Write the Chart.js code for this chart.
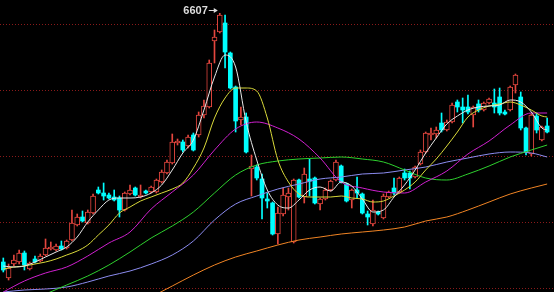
<!DOCTYPE html>
<html>
<head>
<meta charset="utf-8">
<script src="https://cdn.jsdelivr.net/npm/chart.js@4.4.1/dist/chart.umd.min.js"></script>
<style>
  html, body { margin: 0; padding: 0; background: #000; }
  canvas { display: block; }
</style>
</head>
<body>
<canvas id="kline" width="554" height="292"></canvas>
<script>
// daily candles (index 0 = leftmost)
const candleOpen = [4120,3960,4100,4120,4210,4050,4150,4130,4190,4250, 4240,4280,4260,4340,4490,4570,4510,4610,4840,4810,
  4790,4770,4760,4640,4800,4860,4770,4830,4820,4820, 4920,5010,5110,5310,5320,5280,5390,5390,5590,5670,
  6330,6420,6510,6210,5870,5540,5570,5050,5070,4950, 4750,4710,4400,4600,4770,4320,4940,4770,4950,4960,
  4700,4750,4840,4940,5080,4900,4740,4840,4800,4600, 4500,4620,4560,4770,4860,4820,5010,5010,4970,5100,
  5220,5390,5400,5510,5440,5520,5720,5670,5670,5590, 5700,5640,5710,5710,5770,5620,5640,5890,5770,5460,
  5200,5580,5340,5480];
const candleHigh = [4160,4100,4190,4240,4230,4120,4180,4200,4350,4320, 4300,4330,4340,4640,4600,4630,4640,4800,4870,4910,
  4810,4840,4780,4820,4890,4870,4890,4840,4880,4950, 5040,5140,5400,5350,5340,5390,5410,5620,5740,6140,
  6440,6607,6590,6220,5880,5670,5610,5190,5090,5000, 4810,4720,4670,4860,4860,4950,4950,5060,5150,4970,
  4760,4860,4940,5140,5090,4910,4850,4970,4810,4630, 4740,4630,4800,4830,4960,4970,5050,5030,5080,5240,
  5420,5460,5470,5610,5540,5710,5740,5760,5790,5680, 5740,5720,5760,5850,5860,5640,5880,6000,5820,5470,
  5600,5610,5480,5560];
const candleLow = [4020,3940,4080,4100,4040,4040,4110,4120,4180,4240, 4230,4240,4250,4330,4480,4520,4500,4600,4800,4740,
  4750,4730,4570,4630,4790,4780,4760,4800,4810,4810, 4910,5000,5100,5290,5220,5260,5230,5370,5560,5660,
  6110,6410,6060,5850,5420,5490,5210,4780,4940,4550, 4660,4390,4300,4580,4640,4310,4760,4710,4780,4700,
  4640,4740,4830,4930,4910,4720,4660,4760,4600,4490, 4480,4590,4550,4760,4790,4810,4940,4850,4960,5090,
  5210,5340,5360,5420,5430,5510,5620,5510,5600,5470, 5620,5630,5700,5610,5590,5590,5630,5810,5440,5190,
  5180,5410,5330,5410];
const candleClose = [4040,4060,4140,4210,4090,4110,4120,4180,4260,4270, 4280,4250,4330,4510,4570,4530,4620,4780,4810,4780,
  4760,4740,4640,4810,4840,4790,4790,4810,4870,4940, 5020,5120,5320,5330,5240,5370,5240,5590,5680,6110,
  6370,6590,6220,5860,5530,5570,5220,5080,4960,4760, 4730,4400,4610,4790,4810,4940,4770,5000,4930,4710,
  4750,4840,4930,5120,4920,4730,4840,4810,4610,4570, 4640,4600,4780,4820,4810,4960,4960,4960,5070,5220,
  5410,5410,5440,5440,5520,5690,5670,5640,5620,5670, 5640,5710,5750,5670,5610,5600,5870,5990,5460,5220,
  5590,5440,5470,5420];

// moving averages, sampled at these candle positions
const fastIdx = [0,2,4,6,8,10,12,14,16,18,20,22,24,26,28,30,32,34,36,38,40,42,44,46,48,50,
  52,54,56,58,60,62,64,66,68,70,72,74,76,78,80,82,84,86,88,90,92,94,96,98,100,102,103];
const ma5 = [4080,4070,4080,4120,4170,4220,4270,4370,4520,4640,4740,4760,4760,4770,4810,4890,5040,5210,5340,5640,5970,6190,6070,5520,5140,4840,
  4690,4660,4740,4840,4870,4830,4920,4880,4750,4620,4640,4770,4890,5040,5210,5360,5500,5580,5640,5670,5680,5690,5740,5720,5620,5460,5440];
const ma10 = [4050,4070,4080,4100,4120,4150,4190,4230,4290,4390,4490,4610,4670,4730,4770,4810,4850,4910,5060,5260,5560,5760,5860,5860,5830,5560,
  5140,4920,4800,4770,4770,4770,4780,4760,4750,4720,4730,4780,4840,4920,5040,5150,5280,5420,5570,5640,5680,5700,5720,5690,5640,5580,5570];

const slowIdx = [0,4,8,12,16,20,24,28,32,36,40,44,48,52,56,60,64,68,72,76,80,84,88,92,96,100,103];
const ma20 = [3820,3930,4010,4070,4180,4310,4420,4650,4820,4990,5240,5450,5520,5460,5350,5160,4920,4860,4820,4810,4920,5030,5200,5330,5490,5610,5610];
const ma30 = [null,null,3800,3890,3980,4090,4220,4360,4480,4620,4810,4990,5090,5130,5150,5160,5170,5150,5120,5040,4960,4940,5000,5080,5170,5240,5290];
const ma60 = [3820,3840,3850,3870,3920,3980,4030,4100,4190,4330,4540,4700,4780,4850,4900,4950,4970,5000,5010,5040,5070,5120,5160,5200,5220,5210,5170];
const ma120 = [null,null,null,null,null,null,null,3770,3880,3990,4090,4170,4230,4290,4340,4370,4400,4420,4440,4470,4530,4570,4640,4720,4800,4860,4900];

// unlabeled horizontal guide levels
const gridLevels = [6500, 5840, 5180, 4520, 3860];

const RED = '#e4463e';
const CYAN = '#00ffff';

function toPoints(idx, vals) {
  return idx.map((x, k) => ({ x: x, y: vals[k] })).filter(p => p.y !== null);
}

function maLine(label, idx, vals, color) {
  return {
    type: 'line',
    label: label,
    data: toPoints(idx, vals),
    borderColor: color,
    borderWidth: 1,
    pointRadius: 0,
    cubicInterpolationMode: 'monotone',
    order: 0
  };
}

const idxAll = candleOpen.map((_, i) => i);
const isUp = i => candleClose[i] >= candleOpen[i];

// peak marker "6607 →"
const peakLabel = {
  id: 'peakLabel',
  afterDatasetsDraw(chart) {
    const { ctx, scales: { x, y } } = chart;
    const hi = Math.max(...candleHigh);
    const i = candleHigh.indexOf(hi);
    const px = x.getPixelForValue(i);
    const ay = Math.round(y.getPixelForValue(hi) - 3) + 0.5;
    ctx.save();
    ctx.fillStyle = '#dcdcdc';
    ctx.strokeStyle = '#dcdcdc';
    ctx.lineWidth = 1;
    ctx.font = 'bold 11px "Liberation Sans", Arial, sans-serif';
    ctx.textAlign = 'right';
    ctx.textBaseline = 'middle';
    ctx.fillText(String(hi), px - 12, ay);
    ctx.beginPath();
    ctx.moveTo(px - 11, ay);
    ctx.lineTo(px - 3, ay);
    ctx.stroke();
    ctx.beginPath();
    ctx.moveTo(px - 2, ay);
    ctx.lineTo(px - 6, ay - 2.5);
    ctx.lineTo(px - 6, ay + 2.5);
    ctx.closePath();
    ctx.fill();
    ctx.restore();
  }
};

new Chart(document.getElementById('kline'), {
  type: 'bar',
  data: {
    datasets: [
      maLine('MA5', fastIdx, ma5, '#e8e8e8'),
      maLine('MA10', fastIdx, ma10, '#dada3a'),
      maLine('MA20', slowIdx, ma20, '#d020d0'),
      maLine('MA30', slowIdx, ma30, '#2ed02e'),
      maLine('MA60', slowIdx, ma60, '#8c8cf0'),
      maLine('MA120', slowIdx, ma120, '#f08424'),
      {
        // rising days: hollow red bodies
        label: 'up',
        data: idxAll.filter(isUp).map(i => ({ x: i, y: [candleOpen[i], candleClose[i]] })),
        backgroundColor: '#000',
        borderColor: RED,
        borderWidth: 1,
        borderSkipped: false,
        barThickness: 5,
        grouped: false,
        order: 1
      },
      {
        // falling days: solid cyan bodies
        label: 'down',
        data: idxAll.filter(i => !isUp(i)).map(i => ({ x: i, y: [candleClose[i], candleOpen[i]] })),
        backgroundColor: CYAN,
        borderWidth: 0,
        barThickness: 4,
        grouped: false,
        order: 1
      },
      {
        label: 'wick',
        data: idxAll.map(i => ({ x: i, y: [candleLow[i], candleHigh[i]] })),
        backgroundColor: idxAll.map(i => isUp(i) ? RED : CYAN),
        borderWidth: 0,
        barThickness: 1,
        grouped: false,
        order: 2
      }
    ]
  },
  options: {
    responsive: false,
    animation: false,
    devicePixelRatio: 1,
    layout: { padding: 0 },
    plugins: {
      legend: { display: false },
      tooltip: { enabled: false }
    },
    scales: {
      x: {
        type: 'linear',
        min: -0.625,
        max: 104.3,
        display: false,
        offset: false
      },
      y: {
        min: 3820,
        max: 6740,
        afterBuildTicks: s => { s.ticks = gridLevels.map(v => ({ value: v })); },
        ticks: { display: false },
        border: { display: false, dash: [1, 2] },
        grid: {
          color: '#8a1a1a',
          drawTicks: false,
          tickLength: 0
        }
      }
    }
  },
  plugins: [peakLabel]
});
</script>
</body>
</html>
